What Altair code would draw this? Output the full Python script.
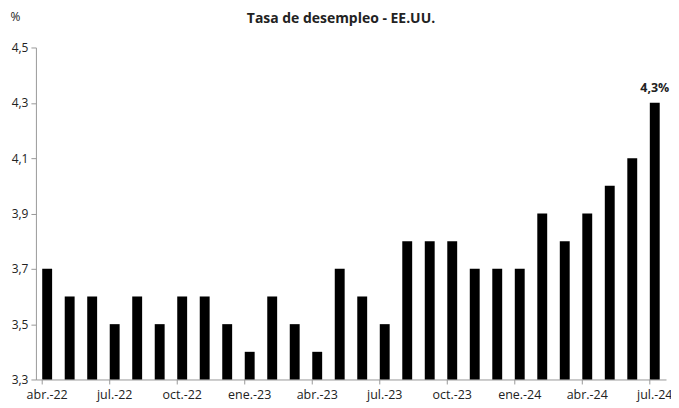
import altair as alt
import pandas as pd

months = ["abr.-22", "may.-22", "jun.-22", "jul.-22", "ago.-22", "sep.-22",
          "oct.-22", "nov.-22", "dic.-22", "ene.-23", "feb.-23", "mar.-23",
          "abr.-23", "may.-23", "jun.-23", "jul.-23", "ago.-23", "sep.-23",
          "oct.-23", "nov.-23", "dic.-23", "ene.-24", "feb.-24", "mar.-24",
          "abr.-24", "may.-24", "jun.-24", "jul.-24"]
values = [3.7, 3.6, 3.6, 3.5, 3.6, 3.5, 3.6, 3.6, 3.5, 3.4, 3.6, 3.5, 3.4, 3.7,
          3.6, 3.5, 3.8, 3.8, 3.8, 3.7, 3.7, 3.7, 3.9, 3.8, 3.9, 4.0, 4.1, 4.3]
shown_labels = ["abr.-22", "jul.-22", "oct.-22", "ene.-23", "abr.-23", "jul.-23",
                "oct.-23", "ene.-24", "abr.-24", "jul.-24"]
title_text = ["Tasa de desempleo - EE.UU."]

df = pd.DataFrame({"mes": months, "valor": values, "idx": range(len(months))})
df["base"] = 3.3
df["etiqueta"] = ""
df.loc[df.index[-1], "etiqueta"] = "4,3%"
df["tick"] = df["mes"].isin(shown_labels)

FONT = "Open Sans"
W, H = 632, 333

xenc = alt.X("mes:N", sort=months,
             scale=alt.Scale(paddingInner=0.56, paddingOuter=0.28),
             axis=alt.Axis(title=None, ticks=False, labelAngle=0,
                           labelExpr="indexof(" + str(shown_labels).replace("'", '"') + ", datum.value) >= 0 ? datum.value : ''",
                           labelFont=FONT, labelFontSize=12.5, labelColor="#222",
                           labelPadding=9, domainColor="#999", labelOverlap=False))
yscale = alt.Scale(domain=[3.3, 4.5], zero=False, nice=False)

bars = alt.Chart(df).mark_bar(color="black").encode(
    x=xenc,
    y=alt.Y("valor:Q", scale=yscale,
            axis=alt.Axis(values=[3.3, 3.5, 3.7, 3.9, 4.1, 4.3, 4.5],
                          labelExpr="replace(format(datum.value, '.1f'), '.', ',')",
                          labelFont=FONT, labelFontSize=12, labelColor="#222",
                          tickColor="#999", tickSize=5, labelPadding=3,
                          domainColor="#999", grid=False,
                          title="%", titleAngle=0, titleX=-21, titleY=-24,
                          titleFont=FONT, titleFontSize=12, titleFontWeight="normal",
                          titleColor="#222")),
    y2=alt.Y2("base:Q"),
)

ticks = alt.Chart(df).transform_filter("datum.tick").mark_rule(color="#999").encode(
    x=alt.X("mes:N", sort=months, bandPosition=0),
    y=alt.value(H), y2=alt.value(H + 5),
)

label = alt.Chart(df).transform_filter("datum.etiqueta != ''").mark_text(
    font=FONT, fontSize=12.5, fontWeight="bold", color="#222", dy=-15
).encode(
    x=alt.X("mes:N", sort=months),
    y=alt.Y("valor:Q", scale=yscale),
    text="etiqueta:N",
)

title = alt.Chart(pd.DataFrame({"t": title_text})).mark_text(
    font=FONT, fontSize=14, fontWeight="bold", color="#222", align="center"
).encode(x=alt.value(306), y=alt.value(-29), text="t:N")

chart = alt.layer(bars, ticks, label, title).properties(
    width=W, height=H,
    autosize=alt.AutoSizeParams(type="none"),
    padding={"left": 28, "top": 39, "right": 5, "bottom": 28},
).configure_view(stroke=None)

chart.save("out.html", embed_options={"renderer": "svg", "actions": False})
